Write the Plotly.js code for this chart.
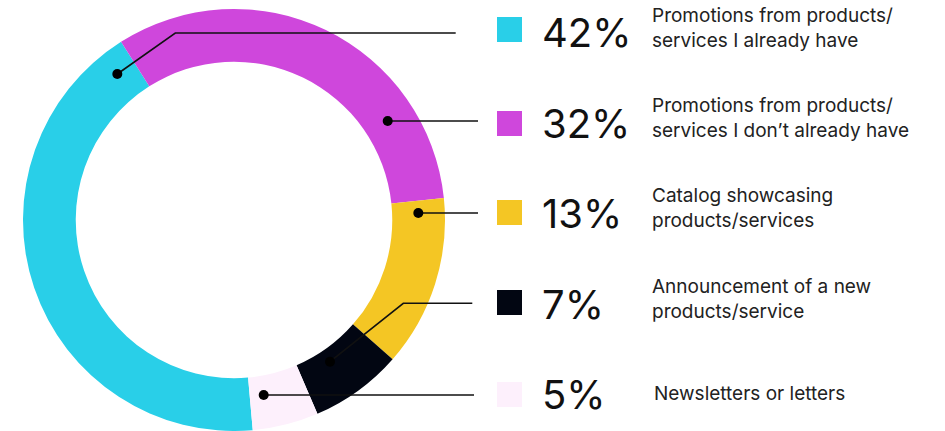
<!DOCTYPE html>
<html>
<head>
<meta charset="utf-8">
<script src="https://cdn.plot.ly/plotly-3.0.1.min.js"></script>
<style>html,body{margin:0;padding:0;background:#fff;}#chart{width:945px;height:431px;}</style>
</head>
<body>
<div id="chart"></div>
<script>
// ---- data ----
const categories = [
  "Promotions from products/<br>services I already have",
  "Promotions from products/<br>services I don\u2019t already have",
  "Catalog showcasing<br>products/services",
  "Announcement of a new<br>products/service",
  "Newsletters or letters"
];
const values = [42, 32, 13, 7, 5];
const pctLabels = values.map(v => v + "%");

// ---- style / layout ----
const colors = ["#29CFE8", "#CF47DC", "#F4C624", "#020612", "#FDF0FC"];
const W = 945, H = 431;
const px = x => x / W;
const py = y => 1 - y / H;

// legend row geometry (pixels)
const rowSquareY = [29.5, 123.5, 212.5, 302.5, 394.5];
const rowPctY = [33, 123.3, 213.3, 304.5, 394];
const rowLabelY = [27.8, 117.9, 208.2, 299.3, 393.8];
const rowLabelX = [650, 650, 650, 650, 651.5];

// leader lines: polyline points (pixels); first point is the dot
const leaders = [
  [[117.3, 74], [175.3, 33], [455.7, 33]],
  [[387.7, 121], [478, 121]],
  [[418.3, 213], [478, 213]],
  [[330, 361.7], [403.3, 303.3], [472.3, 303.3]],
  [[263.7, 395], [474, 395]]
];

const shapes = [];
const annotations = [];

categories.forEach((c, i) => {
  // color square
  shapes.push({type: "rect", xref: "paper", yref: "paper",
    x0: px(497), x1: px(522), y0: py(rowSquareY[i] - 12.5), y1: py(rowSquareY[i] + 12.5),
    fillcolor: colors[i], line: {width: 0}});
  // percentage
  annotations.push({xref: "paper", yref: "paper", x: px(540), y: py(rowPctY[i]),
    xanchor: "left", yanchor: "middle", showarrow: false, text: pctLabels[i],
    font: {family: "Inter, sans-serif", size: 40, color: "#111111"}});
  // label
  annotations.push({xref: "paper", yref: "paper", x: px(rowLabelX[i]), y: py(rowLabelY[i]),
    xanchor: "left", yanchor: "middle", align: "left", showarrow: false, text: c,
    font: {family: "Inter, sans-serif", size: 19, color: "#222222"}});
  // leader
  const pts = leaders[i];
  const path = pts.map((p, k) => (k === 0 ? "M" : "L") + px(p[0]) + "," + py(p[1])).join(" ");
  shapes.push({type: "path", xref: "paper", yref: "paper", path: path,
    line: {color: "#111111", width: 1.6}});
  const d = pts[0];
  shapes.push({type: "circle", xref: "paper", yref: "paper",
    x0: px(d[0] - 5), x1: px(d[0] + 5), y0: py(d[1] + 5), y1: py(d[1] - 5),
    fillcolor: "#000000", line: {width: 0}});
});

const trace = {
  type: "pie",
  labels: categories,
  values: values,
  marker: {colors: colors, line: {width: 0}},
  hole: 0.75,
  sort: false,
  direction: "clockwise",
  rotation: 174.9,
  textinfo: "none",
  hoverinfo: "none",
  domain: {x: [px(23), px(445)], y: [py(431), py(9)]}
};

const layout = {
  width: W, height: H,
  margin: {l: 0, r: 0, t: 0, b: 0},
  showlegend: false,
  paper_bgcolor: "#ffffff",
  shapes: shapes,
  annotations: annotations
};

Plotly.newPlot("chart", [trace], layout, {displayModeBar: false, staticPlot: true});
</script>
</body>
</html>
